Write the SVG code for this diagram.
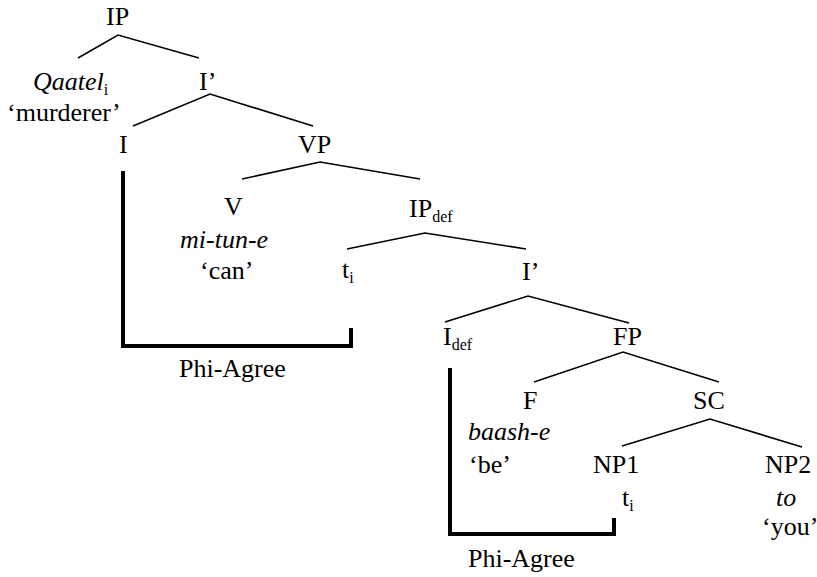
<svg xmlns="http://www.w3.org/2000/svg" width="817" height="577" viewBox="0 0 817 577">
<style>
text{font-family:"Liberation Serif","Times New Roman",serif;font-size:26px;fill:#000}
.it{font-style:italic}
.sub{font-size:16px;font-style:normal}
.edge{fill:none;stroke:#000;stroke-width:1.6}
.agree{fill:none;stroke:#000;stroke-width:4}
</style>
<rect width="817" height="577" fill="#fff"/>
<g id="connectors">
<polyline class="edge" points="78,58 118,35 199,58"/>
<polyline class="edge" points="133,126 210,94 313,126"/>
<polyline class="edge" points="242,179 320,162 420,179"/>
<polyline class="edge" points="347,249 425,233 526,249"/>
<polyline class="edge" points="445,322 528,296 629,323"/>
<polyline class="edge" points="534,382 623,352 719,382"/>
<polyline class="edge" points="622,446 710,419 802,447"/>
<path class="agree" d="M123,171 V346 H351 V328"/>
<path class="agree" d="M450,368 V534 H614 V518"/>
</g>
<g id="IP"><text x="106" y="25">IP</text></g>
<g id="Qaatel"><text x="33" y="90"><tspan class="it">Qaatel</tspan><tspan class="sub" dy="5">i</tspan></text><text x="7" y="121">‘murderer’</text></g>
<g id="Ibar1"><text x="199" y="90">I’</text></g>
<g id="I"><text x="119" y="153">I</text></g>
<g id="VP"><text x="298" y="153">VP</text></g>
<g id="V"><text x="224" y="215">V</text><text class="it" x="180" y="248">mi-tun-e</text><text x="200" y="279">‘can’</text></g>
<g id="IPdef"><text x="409" y="217">IP<tspan class="sub" dy="5">def</tspan></text></g>
<g id="t1"><text x="342" y="278">t<tspan class="sub" dy="5">i</tspan></text></g>
<g id="Ibar2"><text x="522" y="280">I’</text></g>
<g id="Idef"><text x="443" y="345">I<tspan class="sub" dy="5">def</tspan></text></g>
<g id="FP"><text x="613" y="345">FP</text></g>
<g id="F"><text x="523" y="409">F</text><text class="it" x="468" y="440">baash-e</text><text x="469" y="473">‘be’</text></g>
<g id="SC"><text x="693" y="409">SC</text></g>
<g id="NP1"><text x="593" y="473">NP1</text><text x="622" y="506">t<tspan class="sub" dy="5">i</tspan></text></g>
<g id="NP2"><text x="765" y="473">NP2</text><text class="it" x="776" y="506">to</text><text x="762" y="535">‘you’</text></g>
<g id="agree1"><text x="179" y="377">Phi-Agree</text></g>
<g id="agree2"><text x="468" y="567">Phi-Agree</text></g>
</svg>
